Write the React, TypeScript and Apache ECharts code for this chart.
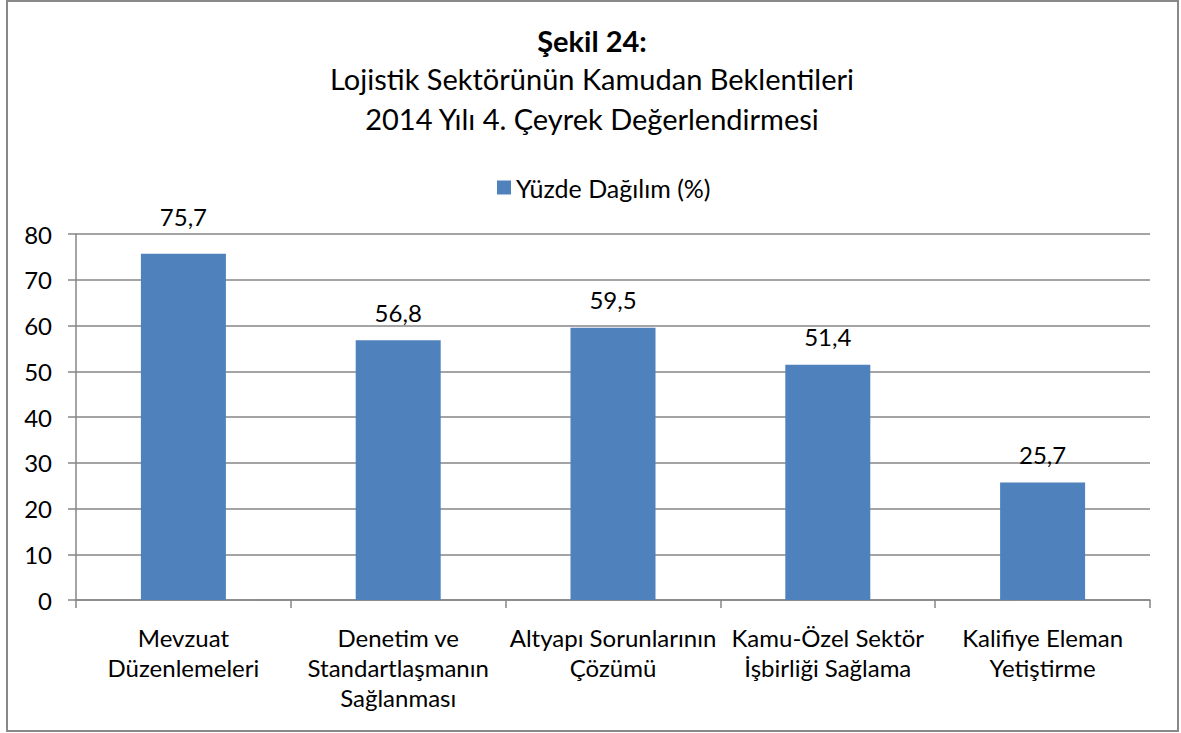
import React, { useEffect, useRef } from "react";
import * as echarts from "echarts";

const categories = [
  "Mevzuat\nDüzenlemeleri",
  "Denetim ve\nStandartlaşmanın\nSağlanması",
  "Altyapı Sorunlarının\nÇözümü",
  "Kamu-Özel Sektör\nİşbirliği Sağlama",
  "Kalifiye Eleman\nYetiştirme",
];
const values = [75.7, 56.8, 59.5, 51.4, 25.7];
const seriesName = "Yüzde Dağılım (%)";
const titleLines = [
  "Şekil 24:",
  "Lojistik Sektörünün Kamudan Beklentileri",
  "2014 Yılı 4. Çeyrek Değerlendirmesi",
];

const FONT = "Lato, 'Open Sans', sans-serif";

export default function App() {
  const ref = useRef<HTMLDivElement>(null);
  useEffect(() => {
    if (!ref.current) return;
    const chart = echarts.init(ref.current, null, { renderer: "svg" });
    chart.setOption({
      animation: false,
      backgroundColor: "#ffffff",
      textStyle: { fontFamily: FONT, color: "#000" },
      legend: {
        top: 170,
        left: 492,
        itemWidth: 14,
        itemHeight: 14,
        itemGap: 6,
        icon: "rect",
        textStyle: { fontSize: 25, fontFamily: FONT, color: "#000" },
        data: [seriesName],
      },
      grid: { left: 76, right: 31, top: 234, bottom: 133, containLabel: false },
      xAxis: {
        type: "category",
        data: categories,
        axisLine: { lineStyle: { color: "#868686", width: 1.5 } },
        axisTick: { show: true, alignWithLabel: false, length: 8, lineStyle: { color: "#868686", width: 1.5 } },
        axisLabel: { fontSize: 24, lineHeight: 30, color: "#000", margin: 22, interval: 0, fontFamily: FONT },
      },
      yAxis: {
        type: "value",
        min: 0,
        max: 80,
        interval: 10,
        axisLine: { show: true, lineStyle: { color: "#868686", width: 1.5 } },
        axisTick: { show: true, length: 8, lineStyle: { color: "#868686", width: 1.5 } },
        axisLabel: { fontSize: 24, color: "#000", margin: 24, fontFamily: FONT },
        splitLine: { lineStyle: { color: "#868686", width: 1.5 } },
      },
      series: [
        {
          name: seriesName,
          type: "bar",
          data: values.map((v, i) => (i === 0 ? { value: v, label: { distance: 25 } } : v)),
          barWidth: 85,
          itemStyle: { color: "#4F81BD" },
          label: {
            show: true,
            position: "top",
            distance: 16,
            fontSize: 24,
            color: "#000",
            fontFamily: FONT,
            formatter: (p: any) => Number(p.value).toFixed(1).replace(".", ","),
          },
        },
      ],
      graphic: [
        {
          type: "rect",
          shape: { x: 7, y: 1, width: 1171, height: 730 },
          style: { fill: "none", stroke: "#898989", lineWidth: 2 },
          silent: true,
        },
        {
          type: "text",
          x: 592,
          y: 40,
          style: {
            text: titleLines[0],
            textAlign: "center",
            textVerticalAlign: "middle",
            font: `bold 29px ${FONT}`,
            fill: "#000",
          },
        },
        {
          type: "text",
          x: 592,
          y: 78,
          style: {
            text: titleLines[1],
            textAlign: "center",
            textVerticalAlign: "middle",
            font: `29px ${FONT}`,
            fill: "#000",
          },
        },
        {
          type: "text",
          x: 592,
          y: 118,
          style: {
            text: titleLines[2],
            textAlign: "center",
            textVerticalAlign: "middle",
            font: `29px ${FONT}`,
            fill: "#000",
          },
        },
      ],
    });
    return () => chart.dispose();
  }, []);
  return (
    <div
      ref={ref}
      style={{ position: "fixed", left: 0, top: 0, width: 1181, height: 733 }}
    />
  );
}
